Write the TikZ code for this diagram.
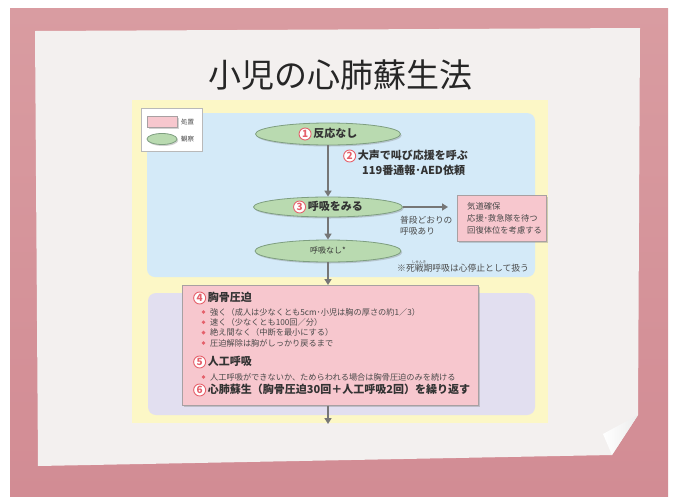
\documentclass[tikz,border=0pt]{standalone}
\usepackage{fontspec}
\setmainfont{Noto Sans CJK JP}
\usetikzlibrary{shapes.geometric,arrows.meta,shadows,calc}
\definecolor{bgpink}{HTML}{D99CA1}
\definecolor{bgpinkd}{HTML}{D28C94}
\definecolor{paper}{HTML}{F3F0EF}
\definecolor{ylw}{HTML}{FCF7C6}
\definecolor{blu}{HTML}{D4EAF8}
\definecolor{lav}{HTML}{E2DFF0}
\definecolor{grn}{HTML}{B9DAB0}
\definecolor{grnb}{HTML}{7E9E80}
\definecolor{pnk}{HTML}{F7C7CE}
\definecolor{pnkb}{HTML}{A8A0A2}
\definecolor{numred}{HTML}{E5606B}
\definecolor{connc}{HTML}{767676}
\definecolor{txt}{HTML}{333333}
\definecolor{txtb}{HTML}{4A4A4A}
\newcommand\cnum[1]{\tikz[baseline=(cn.base)]\node[circle,draw=numred,fill=white,line width=0.9pt,inner sep=0pt,minimum size=12pt,text=numred,font=\fontsize{10}{10}\selectfont\bfseries](cn){#1};}
\tikzset{
  obs/.style={ellipse, draw=grnb, line width=0.8pt, fill=grn, inner sep=0pt,
    drop shadow={shadow xshift=1.2pt,shadow yshift=-1.5pt,opacity=0.35},
    text=txt, font=\fontsize{11}{13}\selectfont\bfseries},
  actbox/.style={rectangle, draw=pnkb, line width=0.6pt, fill=pnk, inner sep=0pt,
    drop shadow={shadow xshift=1.5pt,shadow yshift=-1.5pt,opacity=0.35}},
  connline/.style={draw=connc, line width=2pt, -{Triangle[width=7pt,length=6pt]}},
  lbl/.style={anchor=west, inner sep=0pt, text=txt},
  head/.style={lbl, font=\fontsize{11}{13}\selectfont\bfseries},
  small/.style={lbl, text=txtb, font=\fontsize{8.2}{10}\selectfont},
}
\begin{document}
\begin{tikzpicture}[x=1pt,y=-1pt]
\useasboundingbox (0,0) rectangle (675,496);
\fill[white] (0,0) rectangle (675,496);
\shade[top color=bgpink, bottom color=bgpinkd] (10,8) rectangle (668,496);
% paper
\fill[paper] (35,31) -- (640,28) -- (638,415) -- (612,455) -- (38,466) -- cycle;
\shade[left color=white, right color=gray!15] (603,434) -- (638,415) -- (612,455) -- cycle;
% title
\node[text=black!85, font=\fontsize{33}{36}\selectfont] (title) at (340,75) {小児の心肺蘇生法};
% panels
\fill[ylw] (132,100) rectangle (548,423);
\fill[blu, rounded corners=8] (147,113) rectangle (535,277);
\fill[lav, rounded corners=8] (148,293) rectangle (535,415);
% legend
\node[draw=gray!55, fill=white, line width=0.6pt, minimum width=61pt, minimum height=43pt, anchor=north west] (leg) at (141,108) {};
\node[actbox, minimum width=30pt, minimum height=11pt] (legp) at (162,122) {};
\node[obs, minimum width=30pt, minimum height=11pt] (legg) at (162,139) {};
\node[small, font=\fontsize{6.5}{8}\selectfont] (legpt) at (181,122) {処置};
\node[small, font=\fontsize{6.5}{8}\selectfont] (leggt) at (181,139) {観察};
% observation ellipses
\node[obs, minimum width=145pt, minimum height=22pt] (e1) at (328,134) {\cnum{1}\,反応なし};
\node[obs, minimum width=149pt, minimum height=20pt] (e3) at (328,207) {\cnum{3}\,呼吸をみる};
\node[obs, minimum width=146pt, minimum height=22pt, font=\fontsize{8}{10}\selectfont] (e4) at (328,251) {呼吸なし*};
% step 2
\node[head] (t2a) at (343,156) {\cnum{2}\,大声で叫び応援を呼ぶ};
\node[head] (t2b) at (362,170) {119番通報･AED依頼};
% side branch
\node[actbox, minimum width=89pt, minimum height=46pt, anchor=north west] (p1) at (457,195) {};
\node[small, align=left, font=\fontsize{8.3}{12}\selectfont] (p1t) at (467,218) {気道確保\\応援･救急隊を待つ\\回復体位を考慮する};
\node[small, align=left, font=\fontsize{8.7}{11.5}\selectfont] (n1) at (400,225.5) {普段どおりの\\呼吸あり};
\node[small, font=\fontsize{8.8}{10}\selectfont] (note) at (397,268) {※死戦期呼吸は心停止として扱う};
\node[text=txtb, inner sep=0pt, font=\fontsize{3.6}{4}\selectfont] (ruby) at (419,262) {しせんき};
% main action box
\node[actbox, minimum width=296pt, minimum height=120pt, anchor=north west] (p2) at (182,285) {};
\node[head] (h4) at (193,298) {\cnum{4}\,胸骨圧迫};
\node[small] (b1) at (210,312) {強く（成人は少なくとも5cm･小児は胸の厚さの約1／3）};
\node[small] (b2) at (210,322.3) {速く（少なくとも100回／分）};
\node[small] (b3) at (210,332.6) {絶え間なく（中断を最小にする）};
\node[small] (b4) at (210,343) {圧迫解除は胸がしっかり戻るまで};
\node[head] (h5) at (193,362) {\cnum{5}\,人工呼吸};
\node[small] (b5) at (210,377) {人工呼吸ができないか、ためらわれる場合は胸骨圧迫のみを続ける};
\node[head] (h6) at (193,390) {\cnum{6}\,心肺蘇生（胸骨圧迫30回＋人工呼吸2回）を繰り返す};
\foreach \yy in {312,322.3,332.6,343,377} \fill[numred] (203.5,\yy) circle (1.9);
% connectors
\coordinate (endpt) at (328,424);
\draw[connline] (e1.south) -- (e3.north);
\draw[connline, shorten >=9pt] (e3.east) -- (e3.east -| p1.west);
\draw[connline] (e3.south) -- (e4.north);
\draw[connline] (e4.south) -- (e4.south |- p2.north);
\draw[connline] (p2.south -| endpt) -- (endpt);
\end{tikzpicture}
\end{document}
